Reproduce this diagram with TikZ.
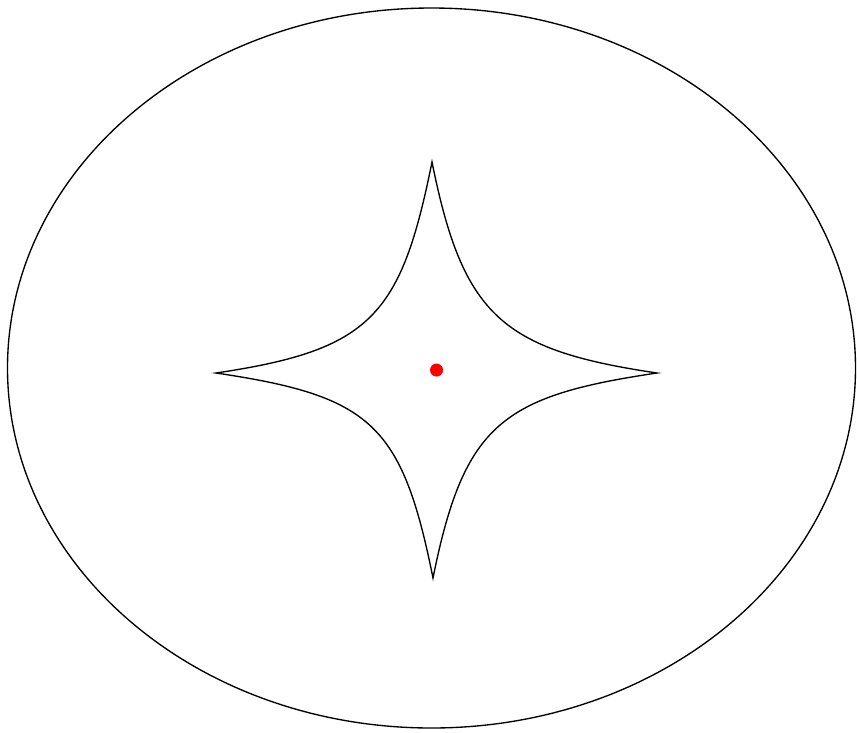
\documentclass[tikz,border=0pt]{standalone}
\begin{document}
\begin{tikzpicture}[x=1pt,y=-1pt,
  outline/.style={draw=black,line width=1.35pt,line join=miter},
  reddot/.style={fill=red,draw=none}]
\useasboundingbox (0,0) rectangle (857,732);
\draw[outline] (431.5,368) ellipse [x radius=424, y radius=360];
\coordinate (c) at (436.5,370);
\coordinate (T) at (432,162);
\coordinate (R) at (657,373);
\coordinate (B) at (433,578);
\coordinate (L) at (216,373);
\draw[outline]
  (T) .. controls +(31,154) and +(-155,-23) .. (R)
      .. controls +(-155,23) and +(31,-154) .. (B)
      .. controls +(-31,-154) and +(155,23) .. (L)
      .. controls +(155,-23) and +(-31,154) .. (T) -- cycle;
\fill[reddot] (c) circle[radius=6.5];
\end{tikzpicture}
\end{document}
